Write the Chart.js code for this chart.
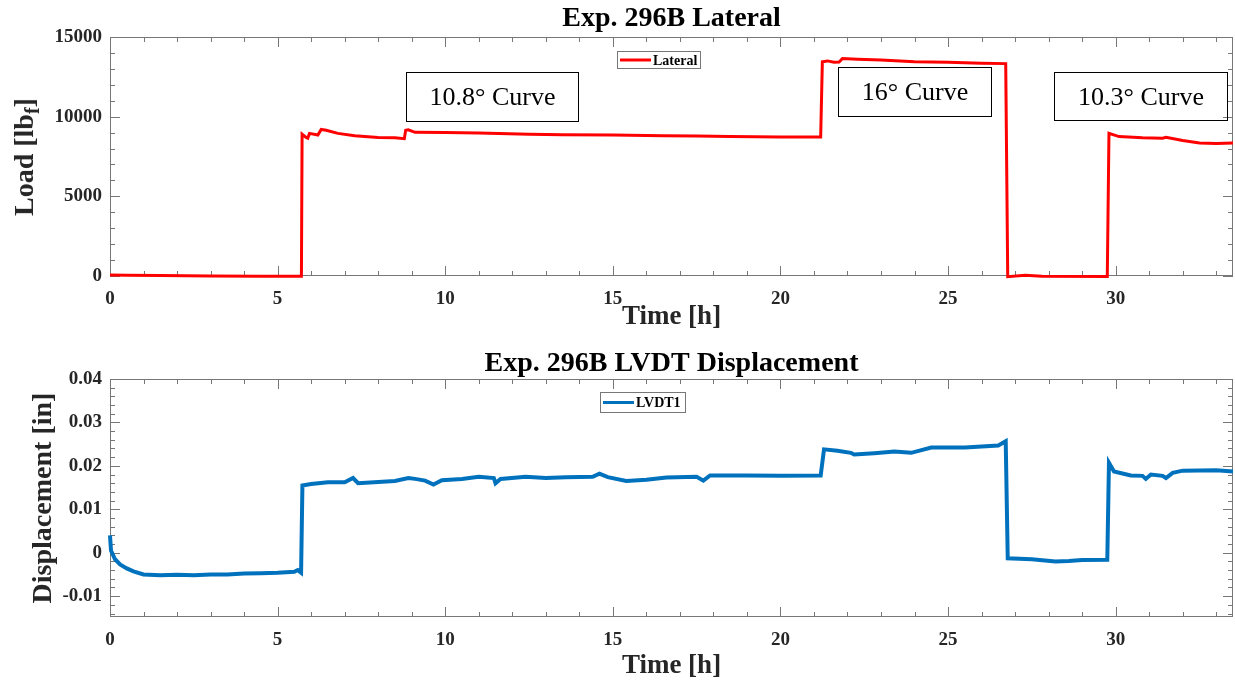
<!DOCTYPE html>
<html>
<head>
<meta charset="utf-8">
<script src="https://cdn.jsdelivr.net/npm/chart.js@4.4.0/dist/chart.umd.min.js"></script>
<style>
  body { margin: 0; background: #fff; }
  .wrap { position: absolute; left: 0; width: 1235px; height: 341px; }
  .note { position: absolute; border: 1.5px solid #000; box-sizing: border-box;
          font: 26px "Liberation Serif", serif; color: #000;
          display: flex; align-items: center; justify-content: center; }
  .ylab { position: absolute; font: bold 28px "Liberation Serif", serif; color: #262626;
          transform: translate(-50%, -50%) rotate(-90deg); white-space: nowrap; line-height: 1; }
  .ylab sub { font-size: 20px; vertical-align: -6px; line-height: 0; }
</style>
</head>
<body>
<div class="wrap" style="top:0"><canvas id="chartLoad" width="1235" height="341"></canvas></div>
<div class="wrap" style="top:341px"><canvas id="chartDisp" width="1235" height="341"></canvas></div>

<div class="ylab" style="left:24px; top:157px">Load [lb<sub>f</sub>]</div>
<div class="note" style="left:406px; top:72px; width:173px; height:50px">10.8° Curve</div>
<div class="note" style="left:838px; top:67px; width:154px; height:50px">16° Curve</div>
<div class="note" style="left:1054px; top:72px; width:174px; height:49px">10.3° Curve</div>

<script>
// time axis (hours)
const timeTicks = [0, 5, 10, 15, 20, 25, 30];

// lateral load, lbf
const lateralTime = [0, 0.5, 1.5, 3, 4.5, 5.71, 5.73, 5.85, 5.9, 5.95, 6.2, 6.3, 6.45, 6.8, 7.3, 8.0, 8.5, 8.78,
  8.82, 8.9, 9.1, 10, 11, 12.5, 13.5, 15, 16.5, 17.5, 18.5, 20, 21.2, 21.25, 21.4, 21.6, 21.75, 21.85,
  22.3, 23, 24, 25, 26, 26.72, 26.78, 27.3, 27.8, 29.75, 29.8, 30.1, 30.8, 31.4, 31.5, 32, 32.5, 33, 33.5];
const lateralLoad = [60, 50, 30, 0, -10, -10, 8900, 8700, 8650, 8950, 8850, 9200, 9150, 8950, 8800, 8700, 8680, 8620,
  9150, 9180, 9020, 9000, 8980, 8900, 8870, 8850, 8800, 8780, 8750, 8720, 8720, 13450, 13500, 13420, 13430, 13650,
  13600, 13550, 13450, 13420, 13350, 13330, -40, 40, -10, -30, 8950, 8750, 8680, 8650, 8700, 8500, 8350, 8320, 8350];
const loadTicks = [0, 5000, 10000, 15000];

// LVDT1 displacement, in
const lvdtTime = [0, 0.03, 0.15, 0.3, 0.5, 0.7, 1.0, 1.5, 2.0, 2.5, 3.0, 3.5, 4.0, 4.5, 5.0, 5.5, 5.6, 5.7,
  5.74, 6.0, 6.5, 7.0, 7.25, 7.4, 8.0, 8.5, 8.9, 9.1, 9.4, 9.65, 9.9, 10.5, 11.0, 11.45, 11.5, 11.65, 12.4,
  13.0, 13.6, 14.4, 14.6, 14.85, 15.4, 16.0, 16.6, 17.5, 17.7, 17.9, 19.0, 20.0, 21.2, 21.3, 21.7, 22.1,
  22.2, 22.8, 23.4, 23.9, 24.5, 25.5, 26.5, 26.72, 26.78, 27.5, 28.2, 28.6, 29.0, 29.75, 29.8, 29.95,
  30.45, 30.8, 30.9, 31.05, 31.4, 31.5, 31.7, 32.0, 33.0, 33.5];
const lvdtDisp = [0.0040, 0.0005, -0.0015, -0.0027, -0.0036, -0.0043, -0.0050, -0.0052, -0.0051, -0.0052,
  -0.0050, -0.0050, -0.0048, -0.0047, -0.0046, -0.0044, -0.0040, -0.0046,
  0.0155, 0.0158, 0.0162, 0.0162, 0.0172, 0.0160, 0.0163, 0.0165, 0.0172, 0.0170, 0.0166, 0.0157, 0.0167,
  0.0170, 0.0175, 0.0172, 0.0160, 0.0170, 0.0175, 0.0172, 0.0174, 0.0175, 0.0182, 0.0174, 0.0165, 0.0168,
  0.0173, 0.0175, 0.0166, 0.0178, 0.0178, 0.0177, 0.0178, 0.0238, 0.0235, 0.0230, 0.0226, 0.0229, 0.0233,
  0.0230, 0.0242, 0.0242, 0.0247, 0.0257, -0.0013, -0.0015, -0.0020, -0.0019, -0.0017, -0.0016, 0.0207,
  0.0187, 0.0178, 0.0177, 0.0170, 0.0180, 0.0177, 0.0172, 0.0184, 0.0189, 0.0190, 0.0187];
const dispTicks = [-0.01, 0, 0.01, 0.02, 0.03, 0.04];

const serif = '"Liberation Serif", "Times New Roman", serif';

// matlab style box with inward ticks on all four sides
const boxAxes = {
  id: 'boxAxes',
  beforeDatasetsDraw(chart, args, o) {
    const { ctx, chartArea: a, scales: { x, y } } = chart;
    ctx.save();
    ctx.strokeStyle = o.color;
    ctx.lineWidth = 1;
    ctx.strokeRect(a.left + 0.5, a.top + 0.5, a.right - a.left - 1, a.bottom - a.top - 1);
    const isMajor = (s, v) => s.ticks.some(t => Math.abs(t.value - v) < 1e-9);
    ctx.beginPath();
    for (let i = Math.ceil(x.min / o.xMinor - 1e-9); i * o.xMinor <= x.max + 1e-9; i++) {
      const v = i * o.xMinor;
      const px = Math.round(x.getPixelForValue(v)) + 0.5;
      const len = isMajor(x, v) ? o.major : o.minor;
      ctx.moveTo(px, a.bottom); ctx.lineTo(px, a.bottom - len);
      ctx.moveTo(px, a.top); ctx.lineTo(px, a.top + len);
    }
    for (let i = Math.ceil(y.min / o.yMinor - 1e-9); i * o.yMinor <= y.max + 1e-9; i++) {
      const v = i * o.yMinor;
      const py = Math.round(y.getPixelForValue(v)) + 0.5;
      const len = isMajor(y, v) ? o.major : o.minor;
      ctx.moveTo(a.left, py); ctx.lineTo(a.left + len, py);
      ctx.moveTo(a.right, py); ctx.lineTo(a.right - len, py);
    }
    ctx.stroke();
    ctx.restore();
  }
};

// small boxed legend inside the axes
const boxLegend = {
  id: 'boxLegend',
  afterDraw(chart, args, o) {
    const { ctx } = chart;
    const ds = chart.data.datasets[0];
    ctx.save();
    ctx.fillStyle = '#fff';
    ctx.fillRect(o.x, o.y, o.w, o.h);
    ctx.strokeStyle = '#777';
    ctx.lineWidth = 1;
    ctx.strokeRect(o.x + 0.5, o.y + 0.5, o.w, o.h);
    const my = o.y + o.h / 2 + 0.5;
    ctx.strokeStyle = ds.borderColor;
    ctx.lineWidth = 3;
    ctx.beginPath();
    ctx.moveTo(o.x + 3, my); ctx.lineTo(o.x + 3 + o.line, my);
    ctx.stroke();
    ctx.fillStyle = '#000';
    ctx.font = 'bold 14px ' + serif;
    ctx.textBaseline = 'middle';
    ctx.fillText(ds.label, o.x + o.line + 5, my + 1);
    ctx.restore();
  }
};

function makeChart(id, p) {
  return new Chart(document.getElementById(id).getContext('2d'), {
    type: 'line',
    data: {
      datasets: [{
        label: p.label,
        data: p.xs.map((t, i) => ({ x: t, y: p.ys[i] })),
        borderColor: p.color,
        borderWidth: p.width,
        pointRadius: 0,
        tension: 0,
        fill: false,
        clip: 4
      }]
    },
    options: {
      responsive: false,
      animation: false,
      layout: { padding: { left: 0, right: 2, top: 0, bottom: 0 } },
      plugins: {
        legend: { display: false },
        tooltip: { enabled: false },
        title: {
          display: true,
          text: p.title,
          fullSize: false,
          color: '#000',
          font: { family: serif, size: 28, weight: 'bold', lineHeight: 1 },
          padding: p.titlePad
        },
        boxAxes: { color: '#777', xMinor: 1, yMinor: p.yMinor, major: 10, minor: 5 },
        boxLegend: p.legend
      },
      scales: {
        x: {
          type: 'linear',
          min: 0,
          max: 33.5,
          afterBuildTicks: s => { s.ticks = timeTicks.map(v => ({ value: v })); },
          afterFit: s => { s.height = 65; },
          grid: { display: false, drawTicks: false },
          border: { display: false },
          ticks: { color: '#262626', padding: 12, maxRotation: 0,
                   font: { family: serif, size: 19, weight: 'bold' } },
          title: { display: true, text: 'Time [h]', color: '#262626',
                   font: { family: serif, size: 27, weight: 'bold', lineHeight: 1 },
                   padding: { top: 0, bottom: p.xTitlePad } }
        },
        y: {
          min: p.yMin,
          max: p.yMax,
          afterBuildTicks: s => { s.ticks = p.yTicks.map(v => ({ value: v })); },
          afterFit: s => { s.width = 110; },
          grid: { display: false, drawTicks: false },
          border: { display: false },
          ticks: { color: '#262626', padding: 8, callback: v => String(v),
                   font: { family: serif, size: 19, weight: 'bold' } },
          title: { display: !!p.yTitle, text: p.yTitle || '', color: '#262626',
                   font: { family: serif, size: 28, weight: 'bold', lineHeight: 1 },
                   padding: { top: p.yTitlePad, bottom: 0 } }
        }
      }
    },
    plugins: [boxAxes, boxLegend]
  });
}

makeChart('chartLoad', {
  title: 'Exp. 296B Lateral',
  titlePad: { top: 5, bottom: 4 },
  label: 'Lateral',
  xs: lateralTime, ys: lateralLoad,
  color: '#ff0000', width: 3,
  yMin: 0, yMax: 15000, yTicks: loadTicks, yMinor: 1000,
  yTitle: null, yTitlePad: 0,
  xTitlePad: 10,
  legend: { x: 617, y: 51, w: 83, h: 17, line: 31 }
});

makeChart('chartDisp', {
  title: 'Exp. 296B LVDT Displacement',
  titlePad: { top: 9, bottom: 1 },
  label: 'LVDT1',
  xs: lvdtTime, ys: lvdtDisp,
  color: '#0072bd', width: 4,
  yMin: -0.0148, yMax: 0.04, yTicks: dispTicks, yMinor: 0.002,
  yTitle: 'Displacement [in]', yTitlePad: 30,
  xTitlePad: 2,
  legend: { x: 600, y: 51, w: 85, h: 20, line: 31 }
});
</script>
</body>
</html>
